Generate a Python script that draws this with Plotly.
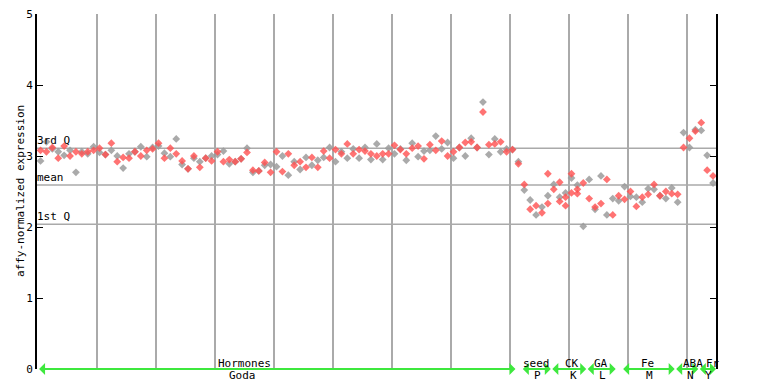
import plotly.graph_objects as go

# ---- data ----
upper = [3.08, 3.20, 3.12, 3.06, 3.14, 3.08, 3.06, 3.06, 3.06, 3.13,
         3.11, 3.02, 3.18, 3.00, 2.98, 3.03, 3.06, 3.13, 3.08, 3.12,
         3.18, 3.04, 3.11, 3.24, 2.93, 2.82, 3.00, 2.92, 2.97, 3.00,
         3.06, 3.07, 2.95, 2.92, 2.96, 3.11, 2.80, 2.79, 2.91, 2.88,
         3.06, 3.00, 3.03, 2.92, 2.92, 2.98, 2.98, 2.94, 3.07, 3.12,
         3.09, 3.06, 3.17, 3.10, 3.09, 3.12, 3.03, 3.17, 3.03, 3.11,
         3.15, 3.10, 3.03, 3.18, 3.14, 3.07, 3.16, 3.28, 3.21, 3.19,
         3.06, 3.12, 3.19, 3.25, 3.12, 3.76, 3.16, 3.24, 3.20, 3.10,
         3.09, 2.92, 2.60, 2.38, 2.30, 2.28, 2.75, 2.60, 2.63, 2.48,
         2.75, 2.59, 2.62, 2.67, 2.28, 2.72, 2.67, 2.40, 2.44, 2.57,
         2.50, 2.42, 2.42, 2.54, 2.60, 2.44, 2.50, 2.55, 2.46, 3.33,
         3.25, 3.37, 3.47, 3.01, 2.72]
lower = [2.93, 3.06, 3.10, 2.97, 3.01, 3.00, 2.77, 3.03, 3.03, 3.08,
         3.05, 3.02, 3.08, 2.92, 2.83, 2.97, 3.06, 3.00, 2.99, 3.10,
         3.14, 2.97, 2.99, 3.03, 2.88, 2.82, 2.97, 2.84, 2.97, 2.93,
         3.02, 2.92, 2.89, 2.92, 2.96, 3.05, 2.77, 2.79, 2.87, 2.77,
         2.85, 2.78, 2.73, 2.87, 2.81, 2.84, 2.87, 2.84, 2.98, 2.97,
         2.92, 3.03, 2.97, 3.03, 2.97, 3.07, 2.95, 3.00, 2.95, 3.03,
         3.03, 3.09, 2.94, 3.11, 2.99, 2.96, 3.08, 3.08, 3.10, 3.00,
         2.97, 3.12, 3.00, 3.20, 3.12, 3.62, 3.02, 3.17, 3.06, 3.06,
         3.09, 2.89, 2.52, 2.25, 2.17, 2.20, 2.44, 2.53, 2.42, 2.42,
         2.69, 2.53, 2.01, 2.40, 2.25, 2.33, 2.17, 2.17, 2.37, 2.39,
         2.43, 2.29, 2.35, 2.46, 2.53, 2.44, 2.40, 2.47, 2.35, 3.12,
         3.12, 3.35, 3.36, 2.80, 2.62]
extra_idx = [86, 88, 89, 90, 91]
extra_val = [2.33, 2.36, 2.30, 2.48, 2.47]

q3_value = 3.108
mean_value = 2.59
q1_value = 2.04

group_top = ["Hormones", "seed", "CK", "GA", "Fe", "ABA", "Fr"]
group_bottom = ["Goda", "P", "K", "L", "M", "N", "Y"]
group_start = [0, 82, 87, 93, 99, 108, 112]
group_end = [80, 86, 92, 97, 107, 111, 114]

# ---- split into red / grey replicate series ----
n = len(upper)
red_x, red_y, grey_x, grey_y = [], [], [], []
for i in range(n):
    if i % 2 == 0:
        red_x.append(i); red_y.append(upper[i])
        grey_x.append(i); grey_y.append(lower[i])
    else:
        red_x.append(i); red_y.append(lower[i])
        grey_x.append(i); grey_y.append(upper[i])

RED = "rgba(255,80,80,0.8)"
GREY = "rgba(155,155,155,0.85)"
GREEN = "#3ee83e"
FONT = "DejaVu Sans Mono"

fig = go.Figure()
fig.add_trace(go.Scatter(x=grey_x, y=grey_y, mode="markers",
                         marker=dict(symbol="diamond", size=6, color=GREY, line=dict(width=0)),
                         hoverinfo="skip"))
fig.add_trace(go.Scatter(x=red_x + extra_idx, y=red_y + extra_val, mode="markers",
                         marker=dict(symbol="diamond", size=6, color=RED, line=dict(width=0)),
                         hoverinfo="skip"))

# quartile / mean lines
for val, lab in [(q3_value, "3rd Q"), (mean_value, "mean"), (q1_value, "1st Q")]:
    fig.add_shape(type="line", xref="paper", x0=0, x1=1, yref="y", y0=val, y1=val,
                  line=dict(color="#aaaaaa", width=1.5), layer="below")
    fig.add_annotation(xref="paper", x=0, yref="y", y=val, text=lab, showarrow=False,
                       xanchor="left", yanchor="bottom", xshift=-2, yshift=-1,
                       font=dict(family=FONT, size=11, color="black"))

# group bars with arrows and labels
label_top_pos = [34.6, 84.1, 90.1, 95.0, 102.9, 110.6, 114.0]
label_bot_pos = [34.3, 84.3, 90.4, 95.3, 103.3, 110.2, 113.3]
for gi in range(len(group_top)):
    s = group_start[gi] - 0.5
    e = group_end[gi] + 0.5
    fig.add_annotation(x=e, y=0, xref="x", yref="y", ax=s, ay=0, axref="x", ayref="y",
                       text="", showarrow=True, arrowhead=1, arrowside="end+start",
                       arrowsize=1, arrowwidth=2, arrowcolor=GREEN)
    fig.add_annotation(x=label_top_pos[gi], y=0, xref="x", yref="paper", text=group_top[gi],
                       showarrow=False, yanchor="bottom", yshift=-2, borderpad=0,
                       font=dict(family=FONT, size=11, color="black"))
    fig.add_annotation(x=label_bot_pos[gi], y=0, xref="x", yref="paper", text=group_bottom[gi],
                       showarrow=False, yanchor="top", yshift=1, borderpad=0,
                       font=dict(family=FONT, size=11, color="black"))

fig.add_annotation(xref="paper", x=0, xshift=-25, yref="paper", y=0.5,
                   text="affy-normalized expression", textangle=-90, showarrow=False,
                   font=dict(family=FONT, size=11, color="black"))

fig.update_layout(
    width=768, height=384,
    margin=dict(l=37, r=52, t=14, b=15, autoexpand=False),
    paper_bgcolor="white", plot_bgcolor="white",
    showlegend=False,
    xaxis=dict(range=[-0.6, 114.5], showgrid=True, gridcolor="#aaaaaa", gridwidth=1.5,
               tick0=9.5, dtick=10, showticklabels=False, ticks="", zeroline=False,
               showline=False, fixedrange=True, automargin=False),
    yaxis=dict(range=[0, 5], dtick=1, showgrid=False, zeroline=False, automargin=False,
               showline=True, linecolor="black", linewidth=2, mirror="ticks",
               ticks="inside", ticklen=6, tickcolor="black", tickwidth=1,
               tickfont=dict(family=FONT, size=11, color="black")),
)

fig.write_html("out.html", config={"displayModeBar": False},
               post_script="document.body.style.margin='0';document.body.style.overflow='hidden';")
